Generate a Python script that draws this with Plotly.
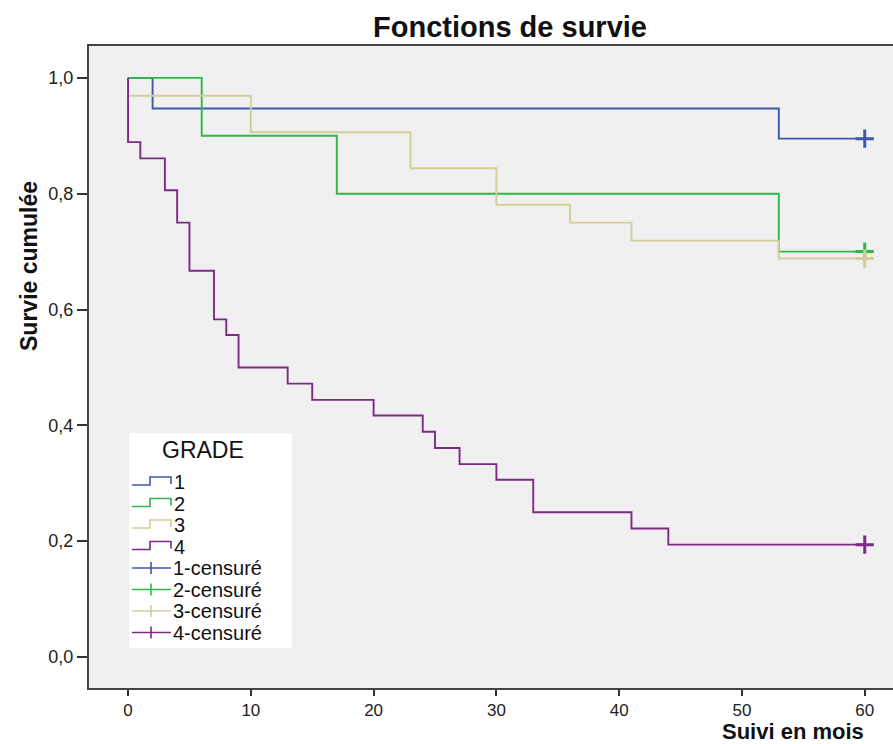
import plotly.graph_objects as go

# Kaplan-Meier survival estimates by tumour grade (time in months)
grade1_t = [0, 2, 53]
grade1_s = [1.0, 0.947, 0.895]

grade2_t = [0, 6, 17, 53]
grade2_s = [1.0, 0.900, 0.800, 0.700]

grade3_t = [0, 0, 10, 23, 30, 36, 41, 53]
grade3_s = [1.0, 0.969, 0.906, 0.844, 0.781, 0.750, 0.719, 0.688]

grade4_t = [0, 0, 1, 3, 4, 5, 7, 8, 9, 13, 15, 20, 24, 25, 27, 30, 33, 41, 44]
grade4_s = [1.0, 0.889, 0.861, 0.806, 0.750, 0.667, 0.583, 0.556, 0.500,
            0.472, 0.444, 0.417, 0.389, 0.361, 0.333, 0.306, 0.250, 0.222, 0.194]

end_of_followup = 60  # censored observations at end of follow-up

grade_labels = ["1", "2", "3", "4"]
censor_labels = ["1-censuré", "2-censuré", "3-censuré", "4-censuré"]
colors = ["#3E58AC", "#2EB848", "#D3CE97", "#7C2A84"]

x_ticks = [0, 10, 20, 30, 40, 50, 60]
y_ticks = [0.0, 0.2, 0.4, 0.6, 0.8, 1.0]

series = [(grade1_t, grade1_s), (grade2_t, grade2_s),
          (grade3_t, grade3_s), (grade4_t, grade4_s)]

W, H = 893, 744
ML, MR, MT, MB = 89, 0, 46, 56
PW, PH = W - ML - MR, H - MT - MB
FONT = "Liberation Sans, Arial, sans-serif"


def px(x):
    return (x - ML) / PW


def py(y):
    return (H - MB - y) / PH


fig = go.Figure()

# survival step curves
for (t, s), c, name in zip(series, colors, grade_labels):
    fig.add_trace(go.Scatter(
        x=t + [end_of_followup], y=s + [s[-1]], mode="lines",
        line=dict(color=c, width=1.9, shape="hv"), name=name,
        hoverinfo="skip", showlegend=False))

# censoring marks
for (t, s), c, name in zip(series, colors, censor_labels):
    fig.add_trace(go.Scatter(
        x=[end_of_followup], y=[s[-1]], mode="markers",
        marker=dict(symbol="cross-thin", size=13, line=dict(color=c, width=3)),
        name=name, hoverinfo="skip", showlegend=False))

shapes = []
annotations = []

# legend panel
lx0, lx1, ly0, ly1 = 129, 292, 433, 648
shapes.append(dict(type="rect", xref="paper", yref="paper",
                   x0=px(lx0), x1=px(lx1), y0=py(ly1), y1=py(ly0),
                   fillcolor="white", line=dict(width=0), layer="above"))
annotations.append(dict(text="GRADE", xref="paper", yref="paper",
                        x=px(203), y=py(450), xanchor="center", yanchor="middle",
                        showarrow=False, font=dict(family=FONT, size=23, color="#111")))

row_y = [482, 503.5, 525, 546.5, 568, 589.5, 611, 632.5]
for i, (c, name) in enumerate(zip(colors, grade_labels)):
    yc = row_y[i]
    path = (f"M {px(132)} {py(yc + 3)} L {px(150)} {py(yc + 3)} "
            f"L {px(150)} {py(yc - 5)} L {px(171)} {py(yc - 5)} L {px(171)} {py(yc + 2)}")
    shapes.append(dict(type="path", xref="paper", yref="paper", path=path,
                       line=dict(color=c, width=1.6), layer="above"))
    annotations.append(dict(text=name, xref="paper", yref="paper",
                            x=px(172), y=py(yc), xanchor="left", yanchor="middle",
                            showarrow=False, font=dict(family=FONT, size=20, color="#111")))

for i, (c, name) in enumerate(zip(colors, censor_labels)):
    yc = row_y[4 + i]
    shapes.append(dict(type="line", xref="paper", yref="paper",
                       x0=px(132), x1=px(171), y0=py(yc), y1=py(yc),
                       line=dict(color=c, width=1.6), layer="above"))
    shapes.append(dict(type="line", xref="paper", yref="paper",
                       x0=px(151), x1=px(151), y0=py(yc - 6), y1=py(yc + 6),
                       line=dict(color=c, width=1.6), layer="above"))
    annotations.append(dict(text=name, xref="paper", yref="paper",
                            x=px(171), y=py(yc), xanchor="left", yanchor="middle",
                            showarrow=False, font=dict(family=FONT, size=20, color="#111")))

# axis titles
annotations.append(dict(text="<b>Suivi en mois</b>", xref="paper", yref="paper",
                        x=px(866), y=py(731), xanchor="right", yanchor="middle",
                        showarrow=False, font=dict(family=FONT, size=22, color="#111")))
annotations.append(dict(text="<b>Survie cumulée</b>", xref="paper", yref="paper",
                        x=px(29), y=py(266), xanchor="center", yanchor="middle",
                        textangle=-90, showarrow=False,
                        font=dict(family=FONT, size=23, color="#111")))

fig.update_layout(
    width=W, height=H,
    margin=dict(l=ML, r=MR, t=MT, b=MB),
    paper_bgcolor="white", plot_bgcolor="#F0F0F0",
    separators=", ",
    title=dict(text="<b>Fonctions de survie</b>", xref="container", yref="container",
               x=510 / W, y=1 - 27 / H, xanchor="center", yanchor="middle",
               font=dict(family=FONT, size=29, color="#111")),
    xaxis=dict(range=[-3.18, 62.3], tickvals=x_ticks, ticks="outside", ticklen=6,
               tickwidth=2, tickcolor="#333", showgrid=False, zeroline=False,
               showline=True, linecolor="#444", linewidth=2, mirror=True,
               tickfont=dict(family=FONT, size=17, color="#222")),
    yaxis=dict(range=[-0.0535, 1.055], tickvals=y_ticks, tickformat=".1f",
               ticks="outside", ticklen=10, tickwidth=2, tickcolor="#333",
               showgrid=False, zeroline=False, showline=True, linecolor="#444",
               linewidth=2, tickfont=dict(family=FONT, size=18, color="#222")),
    shapes=shapes, annotations=annotations,
)

fig.write_html("out.html")
